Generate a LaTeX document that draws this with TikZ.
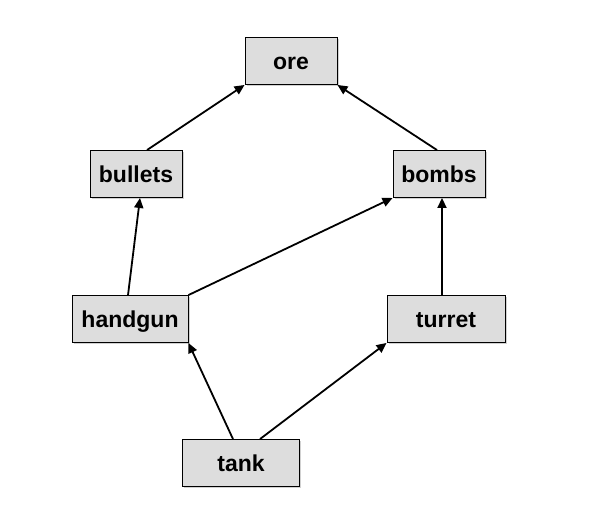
\documentclass[tikz,border=0pt]{standalone}
\usepackage{fontspec}
\setmainfont{Liberation Sans}
\usetikzlibrary{shadows,arrows.meta}
\definecolor{boxfill}{RGB}{221,221,221}
\begin{document}
\begin{tikzpicture}[x=1pt,y=-1pt,
  box/.style={draw=black, line width=0.9pt, fill=boxfill, minimum height=47pt, inner sep=0pt,
    text height=16pt, text depth=0pt,
    font=\fontsize{23}{26}\selectfont\bfseries,
    drop shadow={shadow xshift=1.5pt, shadow yshift=-1.5pt, fill=black!30, opacity=0.6}},
  arr/.style={line width=1.8pt, -{Triangle[length=10pt,width=9pt]}}]
\useasboundingbox (0,0) rectangle (593,523);
\node[box, minimum width=92pt] (ore) at (291,61) {ore};
\node[box, minimum width=92pt] (bullets) at (136,174) {bullets};
\node[box, minimum width=92pt] (bombs) at (439,174) {bombs};
\node[box, minimum width=116pt] (handgun) at (130,319) {handgun};
\node[box, minimum width=118pt] (turret) at (446,319) {turret};
\node[box, minimum width=117pt] (tank) at (241,463) {tank};
\draw[arr] ([xshift=11pt]bullets.north) -- (ore.south west);
\draw[arr] ([xshift=-2pt]bombs.north) -- (ore.south east);
\draw[arr] ([xshift=-2pt]handgun.north) -- ([xshift=4pt]bullets.south);
\draw[arr] (handgun.north east) -- (bombs.south west);
\draw[arr] ([xshift=-4pt]turret.north) -- ([xshift=3pt]bombs.south);
\draw[arr] ([xshift=-8pt]tank.north) -- (handgun.south east);
\draw[arr] ([xshift=19pt]tank.north) -- (turret.south west);
\end{tikzpicture}
\end{document}
